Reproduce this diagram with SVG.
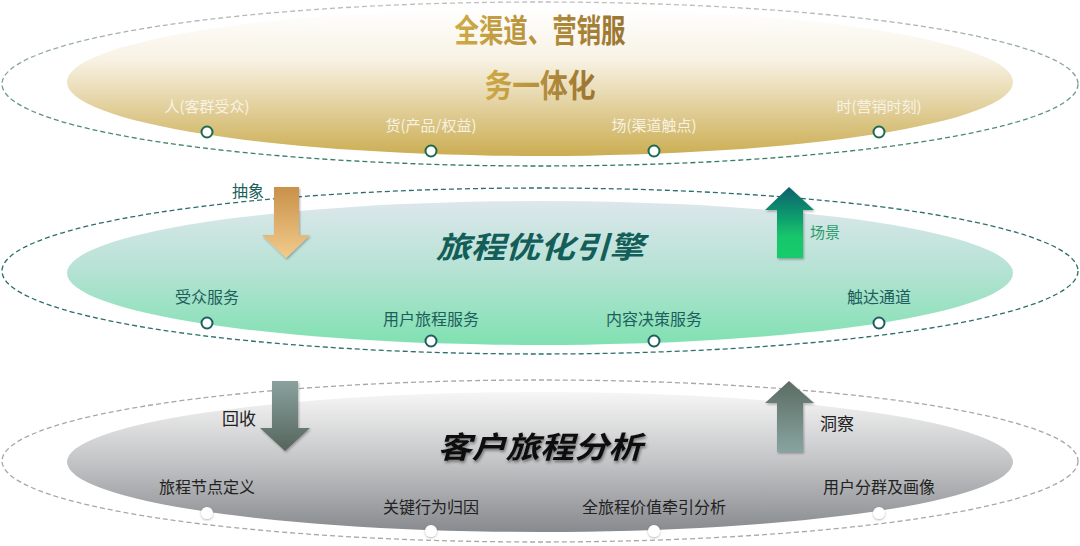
<svg xmlns="http://www.w3.org/2000/svg" width="1080" height="546" viewBox="0 0 1080 546">
<defs>
<linearGradient id="gTop" x1="0" y1="0" x2="0" y2="1">
<stop offset="0" stop-color="#ffffff"/><stop offset="0.35" stop-color="#f8f2e4"/><stop offset="1" stop-color="#cbad52"/>
</linearGradient>
<linearGradient id="gTopRing" x1="0" y1="0" x2="0" y2="1">
<stop offset="0" stop-color="#bfbfbf"/><stop offset="1" stop-color="#2f7a66"/>
</linearGradient>
<linearGradient id="gMid" x1="0" y1="0" x2="0" y2="1">
<stop offset="0" stop-color="#dde7ec"/><stop offset="0.5" stop-color="#b4e2d3"/><stop offset="1" stop-color="#80e1b1"/>
</linearGradient>
<linearGradient id="gBot" x1="0" y1="0" x2="0" y2="1">
<stop offset="0" stop-color="#f6f6f6"/><stop offset="0.5" stop-color="#c3c4c6"/><stop offset="1" stop-color="#878a8e"/>
</linearGradient>
<linearGradient id="gTitle" x1="0" y1="0" x2="1" y2="0">
<stop offset="0" stop-color="#cfaa46"/><stop offset="1" stop-color="#9a7431"/>
</linearGradient>
<linearGradient id="gA1" x1="0" y1="0" x2="0" y2="1">
<stop offset="0" stop-color="#c9914a"/><stop offset="1" stop-color="#f2cb8c"/>
</linearGradient>
<linearGradient id="gA2" x1="0" y1="0" x2="0" y2="1">
<stop offset="0" stop-color="#0d5f6e"/><stop offset="0.7" stop-color="#13c66c"/><stop offset="1" stop-color="#12cc6a"/>
</linearGradient>
<linearGradient id="gA3" x1="0" y1="0" x2="0" y2="1">
<stop offset="0" stop-color="#8aa29e"/><stop offset="1" stop-color="#55645c"/>
</linearGradient>
<linearGradient id="gA4" x1="0" y1="0" x2="0" y2="1">
<stop offset="0" stop-color="#5b6c63"/><stop offset="1" stop-color="#88a4a0"/>
</linearGradient>
<filter id="sh" x="-20%" y="-20%" width="140%" height="140%">
<feDropShadow dx="1" dy="2" stdDeviation="1.5" flood-color="#000" flood-opacity="0.45"/>
</filter>
<filter id="dsh" x="-50%" y="-50%" width="200%" height="200%">
<feDropShadow dx="0" dy="1" stdDeviation="1" flood-color="#000" flood-opacity="0.3"/>
</filter>
<filter id="ash" x="-20%" y="-10%" width="140%" height="130%">
<feDropShadow dx="1" dy="1.5" stdDeviation="1.2" flood-color="#000" flood-opacity="0.3"/>
</filter>
</defs>
<style>
text{font-family:"Noto Sans CJK SC","Noto Sans",sans-serif;text-anchor:middle}
.ring{fill:none;stroke-width:1.3;stroke-dasharray:5 3}
.lt{font-size:15px;fill:#f7f2e3}
.lm{font-size:16px;fill:#1c5f5b}
.lb{font-size:16px;fill:#222}
.dt{fill:#fff;stroke:#1c6a50;stroke-width:2}
.dm{fill:#fff;stroke:#1e5e60;stroke-width:2}
.db{fill:#fff;filter:url(#dsh)}
</style>

<g id="layer-top">
<ellipse cx="540" cy="84" rx="538" ry="82" class="ring" stroke="url(#gTopRing)"/>
<ellipse cx="540" cy="82" rx="473" ry="74" fill="url(#gTop)"/>
<text x="540" y="42" font-size="32" font-weight="bold" fill="url(#gTitle)" textLength="171" lengthAdjust="spacingAndGlyphs">全渠道、营销服</text>
<text x="540" y="97" font-size="32" font-weight="bold" fill="url(#gTitle)" textLength="111" lengthAdjust="spacingAndGlyphs">务一体化</text>
</g>
<g id="node-ren"><text class="lt" x="207" y="112">人(客群受众)</text><circle class="dt" cx="207" cy="132" r="5.5"/></g>
<g id="node-huo"><text class="lt" x="431" y="131">货(产品/权益)</text><circle class="dt" cx="431" cy="151" r="5.5"/></g>
<g id="node-chang"><text class="lt" x="654" y="131">场(渠道触点)</text><circle class="dt" cx="654" cy="151" r="5.5"/></g>
<g id="node-shi"><text class="lt" x="879" y="112">时(营销时刻)</text><circle class="dt" cx="879" cy="132" r="5.5"/></g>

<g id="layer-mid">
<ellipse cx="540" cy="271" rx="538" ry="83" class="ring" stroke="#2b6e6a"/>
<ellipse cx="540" cy="273" rx="473" ry="72" fill="url(#gMid)"/>
<text x="540" y="258" font-size="30" font-weight="bold" font-style="italic" fill="#135e58" textLength="208" lengthAdjust="spacingAndGlyphs">旅程优化引擎</text>
</g>
<g id="node-audience"><text class="lm" x="207" y="303">受众服务</text><circle class="dm" cx="207" cy="323" r="5.5"/></g>
<g id="node-journey"><text class="lm" x="431" y="325">用户旅程服务</text><circle class="dm" cx="431" cy="341" r="5.5"/></g>
<g id="node-content"><text class="lm" x="654" y="325">内容决策服务</text><circle class="dm" cx="654" cy="341" r="5.5"/></g>
<g id="node-reach"><text class="lm" x="879" y="303">触达通道</text><circle class="dm" cx="879" cy="323" r="5.5"/></g>

<g id="layer-bot">
<ellipse cx="540" cy="461" rx="538" ry="81" class="ring" stroke="#a8a8a8"/>
<ellipse cx="540" cy="462" rx="473" ry="70" fill="url(#gBot)"/>
<text x="540" y="458" font-size="30" font-weight="bold" font-style="italic" fill="#111" filter="url(#sh)" textLength="205" lengthAdjust="spacingAndGlyphs">客户旅程分析</text>
</g>
<g id="node-define"><text class="lb" x="207" y="493">旅程节点定义</text><circle class="db" cx="207" cy="513" r="6"/></g>
<g id="node-attr"><text class="lb" x="431" y="513">关键行为归因</text><circle class="db" cx="431" cy="531" r="6"/></g>
<g id="node-value"><text class="lb" x="654" y="513">全旅程价值牵引分析</text><circle class="db" cx="654" cy="531" r="6"/></g>
<g id="node-segment"><text class="lb" x="879" y="493">用户分群及画像</text><circle class="db" cx="879" cy="513" r="6"/></g>

<g id="connectors">
<g id="arrow-abstract">
<path d="M274 187 H299 V235 H310 L286 258 L262 235 H274 Z" fill="url(#gA1)" filter="url(#ash)"/>
<text x="248" y="197" font-size="16" fill="#1c5f5b">抽象</text>
</g>
<g id="arrow-scene">
<path d="M789 187 L814 210 H803 V258 H777 V210 H765 Z" fill="url(#gA2)" filter="url(#ash)"/>
<text x="825" y="238" font-size="15" fill="#2a9b6a">场景</text>
</g>
<g id="arrow-recycle">
<path d="M272 381 H298 V428 H310 L285 451 L260 428 H272 Z" fill="url(#gA3)" filter="url(#ash)"/>
<text x="239" y="425" font-size="17" fill="#222">回收</text>
</g>
<g id="arrow-insight">
<path d="M789 381 L814 403 H803 V452 H777 V403 H765 Z" fill="url(#gA4)" filter="url(#ash)"/>
<text x="837" y="430" font-size="17" fill="#222">洞察</text>
</g>
</g>
</svg>
